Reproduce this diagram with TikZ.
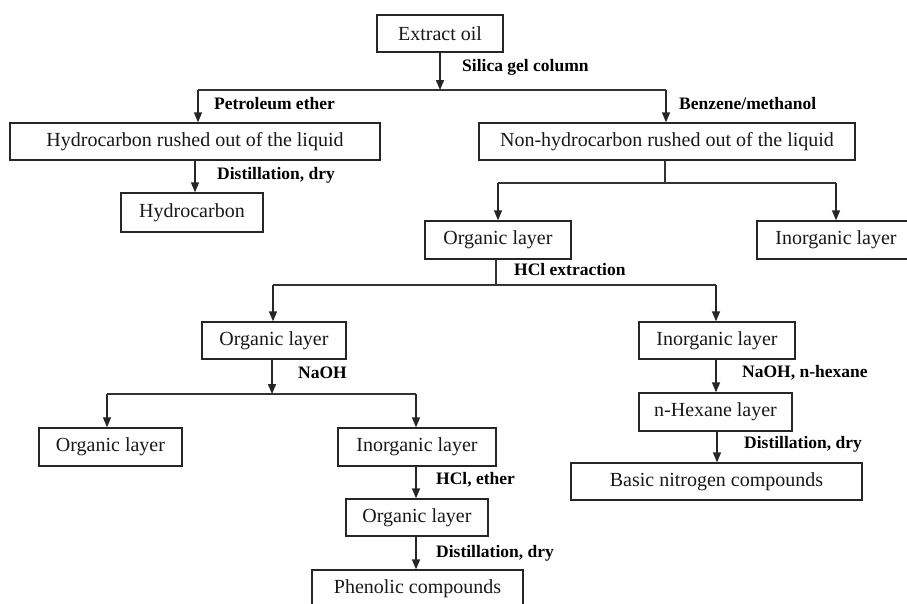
\documentclass[tikz,border=0pt]{standalone}
\usepackage{fontspec}
\setmainfont{Liberation Serif}
\usetikzlibrary{arrows.meta}
\begin{document}
\begin{tikzpicture}[x=1pt,y=-1pt,
  box/.style={draw=black!85,line width=1.3pt,minimum height=37pt,inner sep=0pt,font=\fontsize{20}{24}\selectfont,text=black!90},
  lab/.style={anchor=west,inner sep=0pt,font=\fontsize{17.5}{20}\selectfont\bfseries,text=black},
  arr/.style={draw=black!85,line width=1.3pt,-{Triangle[length=10pt,width=8pt]}},
  ln/.style={draw=black!80,line width=1.1pt}]
\useasboundingbox[fill=white] (0,0) rectangle (907,603);
% nodes
\node[box,minimum width=126pt] (eo) at (440,33.5) {Extract oil};
\node[box,minimum width=370pt] (hc1) at (195,141.5) {Hydrocarbon rushed out of the liquid};
\node[box,minimum width=376pt] (nh) at (667,141.5) {Non-hydrocarbon rushed out of the liquid};
\node[box,minimum width=142pt,minimum height=39pt] (hc) at (192,212.5) {Hydrocarbon};
\node[box,minimum width=146pt,minimum height=38pt] (org1) at (498,240) {Organic layer};
\node[box,minimum width=158pt,minimum height=38pt] (inorg1) at (836,240) {Inorganic layer};
\node[box,minimum width=144pt] (org2) at (274,340.5) {Organic layer};
\node[box,minimum width=156pt] (inorg2) at (717,340.5) {Inorganic layer};
\node[box,minimum width=143pt,minimum height=38pt] (org3) at (110.5,447) {Organic layer};
\node[box,minimum width=158pt,minimum height=38pt] (inorg3) at (417,447) {Inorganic layer};
\node[box,minimum width=153pt,minimum height=38pt] (hex) at (715.5,412) {n-Hexane layer};
\node[box,minimum width=291pt] (basic) at (716.5,481.5) {Basic nitrogen compounds};
\node[box,minimum width=142pt] (org4) at (417,517.5) {Organic layer};
\node[box,minimum width=211pt,text depth=0pt,minimum height=37pt] (phen) at (417.5,588.5) {\raisebox{4pt}{Phenolic compounds}};
% labels
\node[lab] (l1) at (462,67) {Silica gel column};
\node[lab] (l2) at (214,104) {Petroleum ether};
\node[lab] (l3) at (679,104) {Benzene/methanol};
\node[lab] (l4) at (217,175) {Distillation, dry};
\node[lab] (l5) at (514,270) {HCl extraction};
\node[lab] (l6) at (298,373) {NaOH};
\node[lab] (l7) at (742,373) {NaOH, n-hexane};
\node[lab] (l8) at (744,444) {Distillation, dry};
\node[lab] (l9) at (436,480) {HCl, ether};
\node[lab] (l10) at (436,553) {Distillation, dry};
% branch 1
\coordinate (b1) at (440,90);
\coordinate (b1l) at (198,90);
\coordinate (b1r) at (666,90);
\draw[arr] (eo.south -| b1) -- (b1);
\draw[ln] (b1l) -- (b1r);
\draw[arr] (b1l) -- (b1l |- hc1.north);
\draw[arr] (b1r) -- (b1r |- nh.north);
% hydrocarbon
\coordinate (c1) at (195,160);
\draw[arr] (hc1.south -| c1) -- (c1 |- hc.north);
% branch 2
\coordinate (b2) at (665,183);
\coordinate (b2l) at (498,183);
\coordinate (b2r) at (836,183);
\draw[ln] (nh.south -| b2) -- (b2);
\draw[ln] (b2l) -- (b2r);
\draw[arr] (b2l) -- (b2l |- org1.north);
\draw[arr] (b2r) -- (b2r |- inorg1.north);
% branch 3
\coordinate (b3) at (496,285);
\coordinate (b3l) at (273,285);
\coordinate (b3r) at (716,285);
\draw[ln] (org1.south -| b3) -- (b3);
\draw[ln] (b3l) -- (b3r);
\draw[arr] (b3l) -- (b3l |- org2.north);
\draw[arr] (b3r) -- (b3r |- inorg2.north);
% branch 4
\coordinate (b4) at (272,394);
\coordinate (b4l) at (107,394);
\coordinate (b4r) at (416,394);
\draw[arr] (org2.south -| b4) -- (b4);
\draw[ln] (b4l) -- (b4r);
\draw[arr] (b4l) -- (b4l |- org3.north);
\draw[arr] (b4r) -- (b4r |- inorg3.north);
% right chain
\coordinate (c2) at (716,360);
\draw[arr] (inorg2.south -| c2) -- (c2 |- hex.north);
\coordinate (c3) at (717,431);
\draw[arr] (hex.south -| c3) -- (c3 |- basic.north);
% bottom chain
\coordinate (c4) at (416,466);
\draw[arr] (inorg3.south -| c4) -- (c4 |- org4.north);
\draw[arr] (org4.south -| c4) -- (c4 |- phen.north);
\end{tikzpicture}
\end{document}
